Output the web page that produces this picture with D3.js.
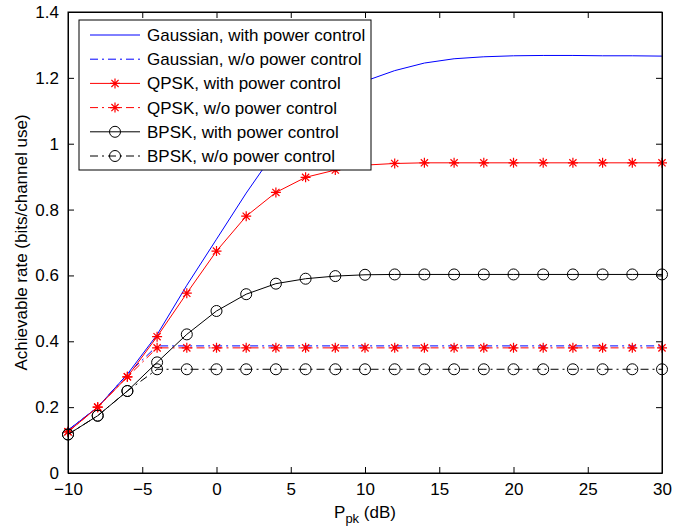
<!DOCTYPE html>
<html>
<head>
<meta charset="utf-8">
<script src="https://cdn.jsdelivr.net/npm/d3@7"></script>
<style>
  body { margin: 0; background: #fff; }
  text { font-family: "Liberation Sans", Arial, sans-serif; }
</style>
</head>
<body>
<script>
// P_pk values (dB)
var ppk = [-10, -8, -6, -4, -2, 0, 2, 4, 6, 8, 10, 12, 14, 16, 18, 20, 22, 24, 26, 28, 30];

var gaussPC   = [0.13, 0.20, 0.30, 0.42, 0.57, 0.71, 0.85, 0.98, 1.07, 1.14, 1.19, 1.222, 1.245, 1.258, 1.264, 1.267, 1.268, 1.268, 1.267, 1.267, 1.266];
var gaussNoPC = [0.13, 0.20, 0.30, 0.386, 0.386, 0.386, 0.386, 0.386, 0.386, 0.386, 0.386, 0.386, 0.386, 0.386, 0.386, 0.386, 0.386, 0.386, 0.386, 0.386, 0.386];
var qpskPC    = [0.125, 0.20, 0.292, 0.414, 0.546, 0.674, 0.78, 0.852, 0.898, 0.92, 0.935, 0.94, 0.942, 0.942, 0.942, 0.942, 0.942, 0.942, 0.942, 0.942, 0.942];
var qpskNoPC  = [0.125, 0.20, 0.292, 0.38, 0.38, 0.38, 0.38, 0.38, 0.38, 0.38, 0.38, 0.38, 0.38, 0.38, 0.38, 0.38, 0.38, 0.38, 0.38, 0.38, 0.38];
var bpskPC    = [0.117, 0.174, 0.249, 0.336, 0.421, 0.492, 0.543, 0.575, 0.59, 0.598, 0.602, 0.603, 0.603, 0.603, 0.603, 0.603, 0.603, 0.603, 0.603, 0.603, 0.603];
var bpskNoPC  = [0.117, 0.174, 0.249, 0.315, 0.315, 0.315, 0.315, 0.315, 0.315, 0.315, 0.315, 0.315, 0.315, 0.315, 0.315, 0.315, 0.315, 0.315, 0.315, 0.315, 0.315];

var xTicks = [-10, -5, 0, 5, 10, 15, 20, 25, 30];
var yTicks = [0, 0.2, 0.4, 0.6, 0.8, 1, 1.2, 1.4];

var series = [
  {name: "Gaussian, with power control", values: gaussPC,   color: "#0000ff", dash: null,        marker: null},
  {name: "Gaussian, w/o power control",  values: gaussNoPC, color: "#0000ff", dash: "8,4,2,4",   marker: null},
  {name: "QPSK, with power control",     values: qpskPC,    color: "#ff0000", dash: null,        marker: "star"},
  {name: "QPSK, w/o power control",      values: qpskNoPC,  color: "#ff0000", dash: "8,4,2,4",   marker: "star"},
  {name: "BPSK, with power control",     values: bpskPC,    color: "#000000", dash: null,        marker: "circle"},
  {name: "BPSK, w/o power control",      values: bpskNoPC,  color: "#000000", dash: "8,4,2,4",   marker: "circle"}
];

var w = 691, h = 527;
var mLeft = 68, mRight = 662, mTop = 12, mBottom = 473;

var svg = d3.select("body").append("svg")
  .attr("width", w)
  .attr("height", h);

var xScale = d3.scaleLinear().domain([-10, 30]).range([mLeft, mRight]);
var yScale = d3.scaleLinear().domain([0, 1.4]).range([mBottom, mTop]);

var line = d3.line()
  .x(function(d) { return xScale(d[0]); })
  .y(function(d) { return yScale(d[1]); });

function drawMarker(g, type, x, y, color) {
  if (type === "star") {
    var s = 5;
    var p = "M" + (x - s) + "," + y + "L" + (x + s) + "," + y +
            "M" + x + "," + (y - s) + "L" + x + "," + (y + s) +
            "M" + (x - s * 0.72) + "," + (y - s * 0.72) + "L" + (x + s * 0.72) + "," + (y + s * 0.72) +
            "M" + (x - s * 0.72) + "," + (y + s * 0.72) + "L" + (x + s * 0.72) + "," + (y - s * 0.72);
    g.append("path").attr("d", p).attr("stroke", color).attr("stroke-width", 1.2).attr("fill", "none");
  } else if (type === "circle") {
    g.append("circle").attr("cx", x).attr("cy", y).attr("r", 5.5)
      .attr("stroke", color).attr("stroke-width", 1).attr("fill", "none");
  }
}

// curves
var plot = svg.append("g");
series.forEach(function(s) {
  var pts = ppk.map(function(v, i) { return [v, s.values[i]]; });
  plot.append("path")
    .attr("d", line(pts))
    .attr("fill", "none")
    .attr("stroke", s.color)
    .attr("stroke-width", 1)
    .attr("stroke-dasharray", s.dash);
  if (s.marker) {
    pts.forEach(function(p) {
      drawMarker(plot, s.marker, xScale(p[0]), yScale(p[1]), s.color);
    });
  }
});

// axes (MATLAB box with inward ticks)
var tickLen = 6;
svg.append("g")
  .attr("transform", "translate(0," + mBottom + ")")
  .call(d3.axisBottom(xScale).tickValues(xTicks).tickSizeInner(-tickLen).tickSizeOuter(0).tickPadding(10)
    .tickFormat(function(d) { return d < 0 ? "\u2212" + Math.abs(d) : d; }));
svg.append("g")
  .attr("transform", "translate(0," + mTop + ")")
  .call(d3.axisTop(xScale).tickValues(xTicks).tickSizeInner(-tickLen).tickSizeOuter(0).tickFormat(""));
svg.append("g")
  .attr("transform", "translate(" + mLeft + ",0)")
  .call(d3.axisLeft(yScale).tickValues(yTicks).tickSizeInner(-tickLen).tickSizeOuter(0).tickPadding(9)
    .tickFormat(function(d) { return d; }));
svg.append("g")
  .attr("transform", "translate(" + mRight + ",0)")
  .call(d3.axisRight(yScale).tickValues(yTicks).tickSizeInner(-tickLen).tickSizeOuter(0).tickFormat(""));

svg.selectAll(".domain").attr("stroke", "#000");
svg.selectAll(".tick line").attr("stroke", "#000");
svg.selectAll(".tick text")
  .attr("font-family", "'Liberation Sans', Arial, sans-serif")
  .attr("font-size", "17px")
  .attr("fill", "#000");

svg.append("rect")
  .attr("x", mLeft).attr("y", mTop)
  .attr("width", mRight - mLeft).attr("height", mBottom - mTop)
  .attr("fill", "none").attr("stroke", "#000").attr("stroke-width", 1);

// axis labels
var xl = svg.append("text")
  .attr("x", (mLeft + mRight) / 2)
  .attr("y", 518)
  .attr("text-anchor", "middle")
  .attr("font-size", "17px");
xl.append("tspan").text("P");
xl.append("tspan").attr("font-size", "13px").attr("dy", 5).text("pk");
xl.append("tspan").attr("dy", -5).text(" (dB)");

svg.append("text")
  .attr("transform", "translate(27," + ((mTop + mBottom) / 2) + ") rotate(-90)")
  .attr("text-anchor", "middle")
  .attr("font-size", "17px")
  .text("Achievable rate (bits/channel use)");

// legend
var lg = svg.append("g");
lg.append("rect")
  .attr("x", 79).attr("y", 20).attr("width", 292).attr("height", 150)
  .attr("fill", "#fff").attr("stroke", "#000").attr("stroke-width", 1);
series.forEach(function(s, i) {
  var y = 35 + i * 24.2;
  lg.append("line")
    .attr("x1", 90).attr("x2", 140).attr("y1", y).attr("y2", y)
    .attr("stroke", s.color).attr("stroke-width", 1)
    .attr("stroke-dasharray", s.dash);
  if (s.marker) drawMarker(lg, s.marker, 115, y, s.color);
  lg.append("text")
    .attr("x", 147).attr("y", y + 6)
    .attr("font-size", "17px")
    .text(s.name);
});
</script>
</body>
</html>
